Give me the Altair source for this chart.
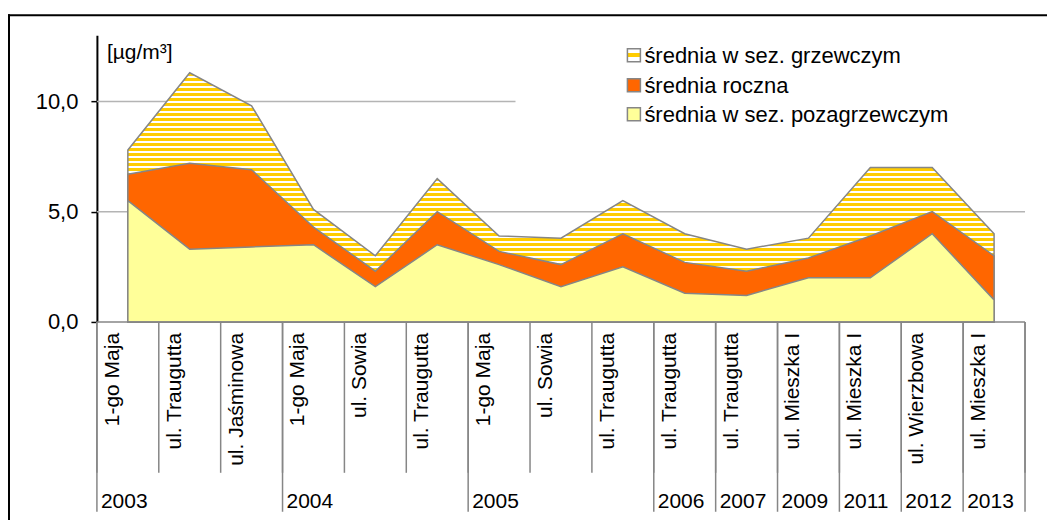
import altair as alt
import pandas as pd

# ---------------- data ----------------
stations = ["1-go Maja", "ul. Traugutta", "ul. Jaśminowa", "1-go Maja", "ul. Sowia",
            "ul. Traugutta", "1-go Maja", "ul. Sowia", "ul. Traugutta", "ul. Traugutta",
            "ul. Traugutta", "ul. Mieszka I", "ul. Mieszka I", "ul. Wierzbowa", "ul. Mieszka I"]
years = ["2003", "2003", "2003", "2004", "2004", "2004", "2005", "2005", "2005",
         "2006", "2007", "2009", "2011", "2012", "2013"]
heating = [7.8, 11.3, 9.8, 5.1, 3.0, 6.5, 3.9, 3.8, 5.5, 4.0, 3.3, 3.8, 7.0, 7.0, 4.0]
annual = [6.7, 7.2, 6.9, 4.3, 2.3, 5.0, 3.2, 2.6, 4.0, 2.7, 2.3, 2.9, 3.9, 5.0, 3.0]
nonheating = [5.5, 3.3, 3.4, 3.5, 1.6, 3.5, 2.6, 1.6, 2.5, 1.3, 1.2, 2.0, 2.0, 4.0, 1.0]
series_names = ["średnia w sez. grzewczym", "średnia roczna", "średnia w sez. pozagrzewczym"]
y_ticks = [0, 5, 10]
unit_label = "[µg/m³]"

# ---------------- style ----------------
W, H = 929, 287
YMAX = 13
FONT = "Liberation Sans"
GRAY = "#868686"
GRID = "#B4B4B4"
YELLOW_STRIPE = "#FFCC00"
ORANGE = "#FF6600"
LIGHT = "#FFFF99"

n = len(stations)
df = pd.DataFrame({"idx": list(range(n)), "station": stations, "year": years,
                   "heating": heating, "annual": annual, "nonheating": nonheating})

xs = alt.Scale(domain=[-0.5, n - 0.5], nice=False, zero=False)
ys = alt.Scale(domain=[0, YMAX], nice=False)
X = alt.X("idx:Q", scale=xs, axis=None)

yaxis = alt.Axis(values=y_ticks, labelExpr="replace(format(datum.value, '.1f'), '.', ',')",
                 domainColor="black", domainWidth=2, tickColor="black", tickWidth=1.5, tickSize=6,
                 labelFont=FONT, labelFontSize=22, labelColor="black", labelPadding=13,
                 grid=False, title=None)

# striped fill (horizontal stripes) as a sharp-stop gradient
bbox_h = max(heating) / YMAX * H
period, band = 5.0, 3.0
stops = []
k = 0
while k * period < bbox_h:
    o0 = k * period / bbox_h
    o1 = min(1.0, (k * period + band) / bbox_h)
    o2 = min(1.0, (k * period + period) / bbox_h)
    stops += [alt.GradientStop(offset=min(o0, 1.0), color=YELLOW_STRIPE),
              alt.GradientStop(offset=o1, color=YELLOW_STRIPE),
              alt.GradientStop(offset=o1, color="white"),
              alt.GradientStop(offset=o2, color="white")]
    k += 1
stripe_fill = alt.LinearGradient(gradient="linear", stops=stops, x1=0, x2=0, y1=0, y2=1)
legend_stripe = alt.LinearGradient(gradient="linear", x1=0, x2=0, y1=0, y2=1, stops=[
    alt.GradientStop(offset=0, color="white"), alt.GradientStop(offset=0.35, color="white"),
    alt.GradientStop(offset=0.35, color=YELLOW_STRIPE), alt.GradientStop(offset=0.65, color=YELLOW_STRIPE),
    alt.GradientStop(offset=0.65, color="white"), alt.GradientStop(offset=1, color="white")])

one = pd.DataFrame({"a": [0]})

# outer frame (top and left edges; the rest lies outside the picture)
frame_top = alt.Chart(one).mark_rule(color="black", strokeWidth=2).encode(
    x=alt.value(-89), x2=alt.value(W + 40), y=alt.value(-20))
frame_left = alt.Chart(one).mark_rule(color="black", strokeWidth=2).encode(
    x=alt.value(-88), y=alt.value(-21), y2=alt.value(H + 230))

# gridlines
grid5 = alt.Chart(pd.DataFrame({"v": [y_ticks[1]]})).mark_rule(color=GRID, strokeWidth=1.5).encode(
    y=alt.Y("v:Q", scale=ys, axis=yaxis), x=alt.value(0), x2=alt.value(W))
grid10 = alt.Chart(pd.DataFrame({"v": [y_ticks[2]]})).mark_rule(color=GRID, strokeWidth=1.5).encode(
    y=alt.Y("v:Q", scale=ys, axis=yaxis), x=alt.value(0), x2=alt.value(419))

area_h = alt.Chart(df).mark_area(fill=stripe_fill, stroke=GRAY, strokeWidth=1.5).encode(
    x=X, y=alt.Y("heating:Q", scale=ys, axis=yaxis))
area_a = alt.Chart(df).mark_area(fill=ORANGE, stroke=GRAY, strokeWidth=1.5).encode(
    x=X, y=alt.Y("annual:Q", scale=ys, axis=yaxis))
area_n = alt.Chart(df).mark_area(fill=LIGHT, stroke=GRAY, strokeWidth=1.5).encode(
    x=X, y=alt.Y("nonheating:Q", scale=ys, axis=yaxis))

xline = alt.Chart(pd.DataFrame({"v": [y_ticks[0]]})).mark_rule(color=GRAY, strokeWidth=1.5).encode(
    y=alt.Y("v:Q", scale=ys, axis=yaxis), x=alt.value(0), x2=alt.value(W))

# category separators
bounds = [i - 0.5 for i in range(n + 1)]
year_starts = [i for i in range(n) if i == 0 or years[i] != years[i - 1]]
sep = alt.Chart(pd.DataFrame({"b": bounds})).mark_rule(color=GRAY, strokeWidth=1.5).encode(
    x=alt.X("b:Q", scale=xs, axis=None), y=alt.value(H), y2=alt.value(H + 151))
ysep = alt.Chart(pd.DataFrame({"b": [s - 0.5 for s in year_starts] + [n - 0.5]})).mark_rule(
    color=GRAY, strokeWidth=1.5).encode(
    x=alt.X("b:Q", scale=xs, axis=None), y=alt.value(H), y2=alt.value(H + 190))

station_lbl = alt.Chart(df).mark_text(angle=270, align="right", baseline="alphabetic", dy=-9,
                                      font=FONT, fontSize=21, color="black").encode(
    x=X, y=alt.value(H + 11), text="station:N")
year_lbl = alt.Chart(pd.DataFrame({"b": [s - 0.5 for s in year_starts],
                                   "year": [years[s] for s in year_starts]})).mark_text(
    align="left", baseline="alphabetic", dx=4, font=FONT, fontSize=21, color="black").encode(
    x=alt.X("b:Q", scale=xs, axis=None), y=alt.value(H + 186), text="year:N")

unit = alt.Chart(pd.DataFrame({"t": [unit_label]})).mark_text(
    align="left", baseline="alphabetic", font=FONT, fontSize=21, color="black").encode(
    x=alt.value(10), y=alt.value(24), text="t:N")

# legend
legend_layers = []
fills = [legend_stripe, ORANGE, LIGHT]
rows = [20, 50, 79]
for name, fill, ry in zip(series_names, fills, rows):
    ldf = pd.DataFrame({"name": [name]})
    legend_layers.append(alt.Chart(ldf).mark_rect(fill=fill, stroke=GRAY, strokeWidth=1.5).encode(
        x=alt.value(531), x2=alt.value(544), y=alt.value(ry - 6.5), y2=alt.value(ry + 6.5)))
    legend_layers.append(alt.Chart(ldf).mark_text(align="left", baseline="middle", font=FONT,
                                                  fontSize=22, color="black").encode(
        x=alt.value(548), y=alt.value(ry + 1), text="name:N"))

chart = alt.layer(frame_top, frame_left, grid5, grid10, area_h, area_a, area_n, xline, sep, ysep,
                  station_lbl, year_lbl, unit, *legend_layers).properties(
    width=W, height=H,
    autosize=alt.AutoSizeParams(type="none"),
    padding={"left": 89, "top": 27, "right": 22, "bottom": 198},
    background="white",
).configure_view(stroke="transparent").configure_axisY(
    labelFont=FONT, labelFontSize=22, labelColor="black", domainColor="black",
    domainWidth=2, tickColor="black")

chart.save("out.html", embed_options={"renderer": "svg", "actions": False})
